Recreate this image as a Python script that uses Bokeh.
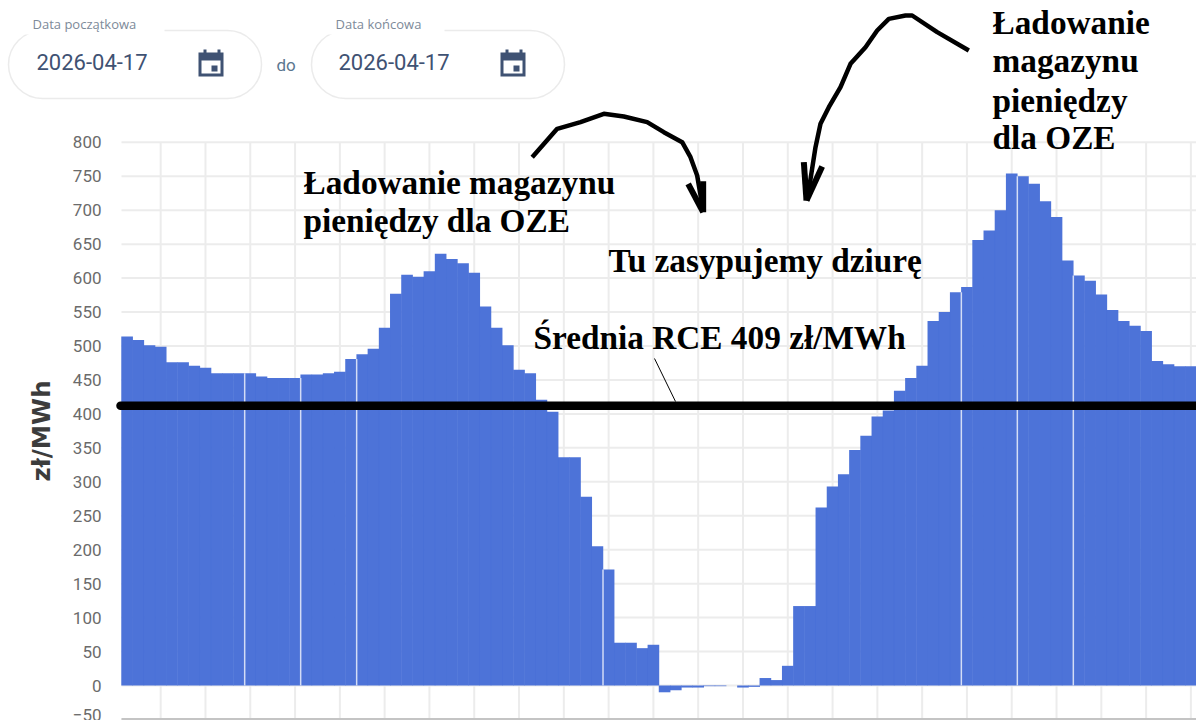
from bokeh.plotting import figure
from bokeh.models import LinearAxis, FixedTicker, BoxAnnotation, Range1d
from bokeh.core.properties import value
from bokeh.embed import file_html
from bokeh.resources import INLINE

# ---- data (zł/MWh, 96 quarter-hour values) ----
prices = [514, 509, 501, 499, 476, 476, 471, 468, 460, 460, 460, 460,
          455, 453, 453, 453, 458, 458, 460, 462, 481, 488, 496, 527,
          577, 605, 602, 610, 636, 628, 622, 608, 558, 527, 501, 465,
          460, 421, 403, 336, 336, 278, 205, 171, 63, 63, 55, 60,
          -10, -7, -3, -3, -1, -1, 0, -3, -2, 11, 8, 29,
          117, 117, 262, 293, 311, 347, 368, 396, 405, 434, 453, 471,
          537, 550, 579, 587, 656, 670, 700, 754, 750, 739, 713, 690,
          626, 604, 596, 576, 553, 537, 530, 522, 478, 473, 470, 470]
y_ticks = [-50, 0, 50, 100, 150, 200, 250, 300, 350, 400, 450, 500,
           550, 600, 650, 700, 750, 800]
hour_ticks = [3.5 + 4 * i for i in range(24)]
seams = [11, 16, 21, 43, 75, 80, 85]
mean_level = 412
y_title = "zł/MWh"
date_from = "2026-04-17"
date_to = "2026-04-17"

# page pixel -> data helpers (for the hand-made annotations)
CW = 1075 / 96
VS = 0.679
def X(px):
    return (px - 121) / CW
def Y(py):
    return (685 - py) / VS

p = figure(width=1196, height=720, output_backend="svg", toolbar_location=None,
           x_axis_type=None, y_axis_type=None,
           x_range=Range1d(X(0), X(1196)), y_range=Range1d(Y(720), Y(0)),
           min_border=0, min_border_left=0, min_border_right=0,
           min_border_top=0, min_border_bottom=0,
           outline_line_color=None, background_fill_color="white",
           border_fill_color="white")
p.grid.visible = False

# grid
GRID = "#ececec"
p.segment(x0=[0] * len(y_ticks), x1=[96] * len(y_ticks), y0=y_ticks, y1=y_ticks,
          line_color=GRID, line_width=2, level="underlay")
p.segment(x0=hour_ticks, x1=hour_ticks, y0=[-50] * len(hour_ticks), y1=[800] * len(hour_ticks),
          line_color=GRID, line_width=2, level="underlay")

# axes placed inside the frame
ya = LinearAxis(fixed_location=0, ticker=FixedTicker(ticks=y_ticks), bounds=(-50, 800),
                axis_line_color=None, major_tick_line_color=None, minor_tick_line_color=None,
                major_label_standoff=14, major_label_text_color="#6b6b6b",
                major_label_text_font="Roboto", major_label_text_font_size="17px",
                axis_label=y_title, axis_label_standoff=14,
                axis_label_text_font="DejaVu Sans", axis_label_text_font_style="bold",
                axis_label_text_font_size="24.5px", axis_label_text_color="#3c3c3c")
p.add_layout(ya, "left")
xa = LinearAxis(fixed_location=-50, ticker=FixedTicker(ticks=[]), bounds=(0, 96),
                axis_line_color="#c4c4c4", axis_line_width=3,
                major_tick_line_color=None, minor_tick_line_color=None)
p.add_layout(xa, "below")

# bars
p.vbar(x=[i + 0.5 for i in range(len(prices))], top=prices, bottom=0, width=1.04,
       fill_color="#466dd6", fill_alpha=0.96, line_color=None)
p.segment(x0=seams, x1=seams, y0=[0] * len(seams),
          y1=[min(prices[s - 1], prices[s]) for s in seams],
          line_color="white", line_alpha=0.75, line_width=1.5)

# mean line
p.line([X(120), X(1200)], [mean_level, mean_level], line_color="black",
       line_width=8.5, line_cap="round")
p.line([X(654), X(675)], [Y(358), Y(401)], line_color="black", line_width=1)

# hand-drawn arrows
a1 = [(35, 170), (110, 85), (180, 65), (250, 40), (310, 48), (380, 65), (430, 95),
      (485, 125), (510, 170), (530, 225), (548, 330)]
p.line([X(520 + a / 3) for a, b in a1], [Y(100 + b / 3) for a, b in a1],
       line_color="black", line_width=4.5, line_join="round")
for a, b in [(503, 250), (548, 242)]:
    p.line([X(520 + a / 3), X(520 + 548 / 3)], [Y(100 + b / 3), Y(100 + 335 / 3)],
           line_color="black", line_width=6)
a2 = [(535, 150), (440, 95), (365, 45), (345, 45), (295, 55), (260, 90), (225, 140),
      (180, 190), (150, 260), (115, 320), (90, 370), (75, 440), (50, 600)]
p.line([X(790 + a / 3) for a, b in a2], [Y(b / 3) for a, b in a2],
       line_color="black", line_width=4.5, line_join="round")
for a, b in [(40, 485), (95, 498)]:
    p.line([X(790 + a / 3), X(790 + 48 / 3)], [Y(b / 3), Y(600 / 3)],
           line_color="black", line_width=6)

# annotation texts
notes = [("Ładowanie magazynu", 303, 182), ("pieniędzy dla OZE", 303, 220),
         ("Tu zasypujemy dziurę", 608, 260), ("Średnia RCE 409 zł/MWh", 533, 337),
         ("Ładowanie", 992, 22), ("magazynu", 992, 60), ("pieniędzy", 992, 100),
         ("dla OZE", 992, 137)]
p.text(x=[X(n[1]) for n in notes], y=[Y(n[2]) for n in notes], text=[n[0] for n in notes],
       text_font=value("Liberation Serif"), text_font_style="bold", text_font_size="33.3px",
       text_color="black", text_baseline="alphabetic")

# date inputs
inputs = [(8, 261, "Data początkowa", 32, date_from, 36, 0, 22, 164),
          (311, 564, "Data końcowa", 335, date_to, 338, 302, 326, 444)]
NAVY = "#3f5273"
for left, right, cap, cx, date, dx, shift, g0, g1 in inputs:
    p.add_layout(BoxAnnotation(left=X(left), right=X(right), top=Y(30), bottom=Y(98),
                               fill_color="white", fill_alpha=1, line_color="#bcbcbc",
                               line_width=1.5, border_radius=34, level="underlay"))
    p.quad(left=[X(g0)], right=[X(g1)], top=[Y(26)], bottom=[Y(34)], fill_color="white",
           line_color=None)
    p.text(x=[X(cx)], y=[Y(23)], text=[cap], text_font=value("Open Sans"), text_font_size="13px",
           text_color="#7d8a99", text_baseline="alphabetic")
    p.text(x=[X(dx)], y=[Y(61)], text=[date], text_font=value("Roboto"), text_font_size="22px",
           text_color="#3f5273", text_baseline="alphabetic")
    # calendar icon
    p.quad(left=[X(198 + shift)], right=[X(223 + shift)], top=[Y(52)], bottom=[Y(76)],
           fill_color=NAVY, line_color=None)
    p.quad(left=[X(201 + shift), X(203 + shift), X(217 + shift)],
           right=[X(220 + shift), X(206 + shift), X(220 + shift)],
           top=[Y(60), Y(49), Y(49)], bottom=[Y(73), Y(54), Y(54)],
           fill_color=["white", NAVY, NAVY], line_color=None)
    p.quad(left=[X(211 + shift)], right=[X(217 + shift)], top=[Y(65)], bottom=[Y(71)],
           fill_color=NAVY, line_color=None)

p.text(x=[X(276)], y=[Y(64)], text=["do"], text_font=value("Roboto"), text_font_size="17px",
       text_color="#5b7690", text_baseline="alphabetic")

open("out.html", "w").write(file_html(p, INLINE))
